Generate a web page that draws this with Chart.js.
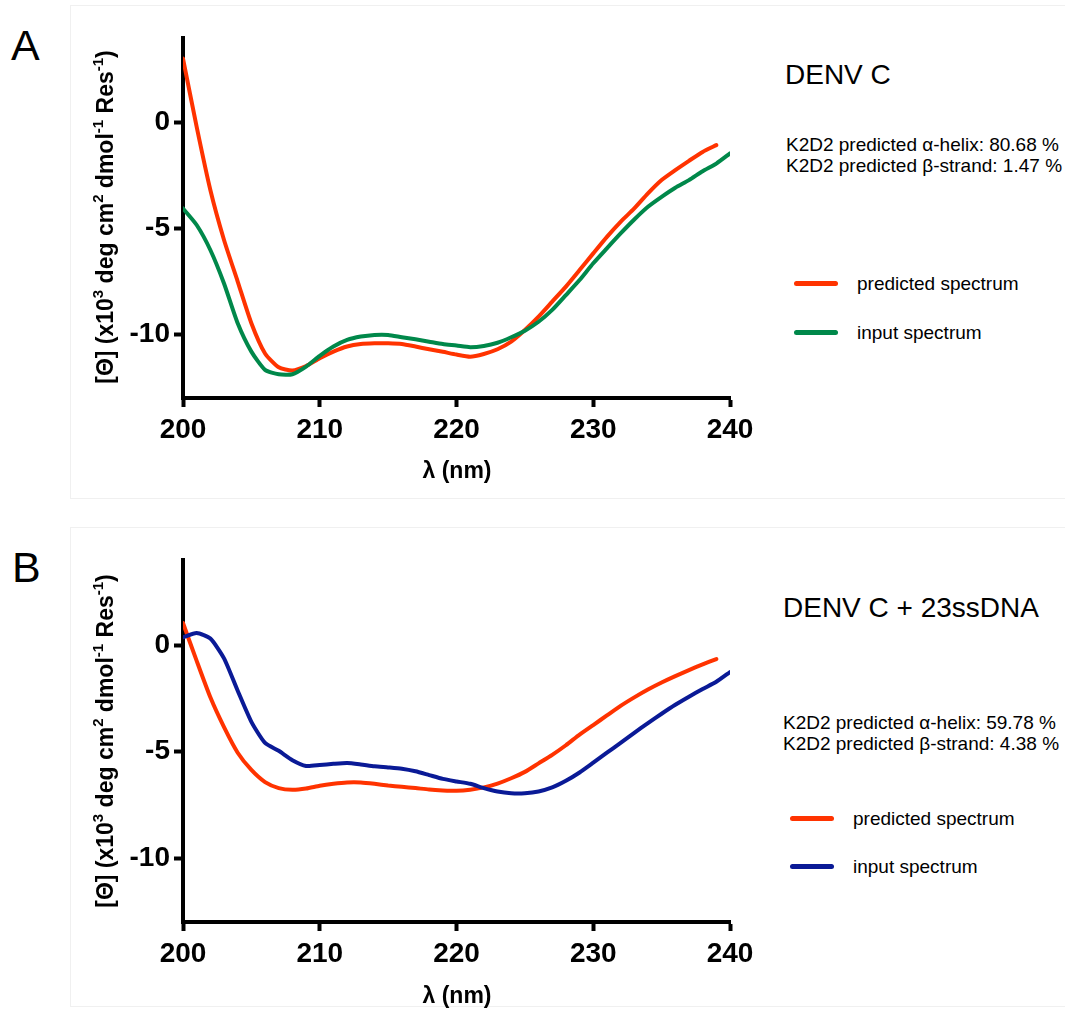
<!DOCTYPE html>
<html><head><meta charset="utf-8">
<script src="https://cdn.jsdelivr.net/npm/chart.js@4"></script>
<style>
body{margin:0;background:#fff;width:1065px;height:1010px;position:relative;overflow:hidden;font-family:"Liberation Sans",Arial,Helvetica,sans-serif;color:#000;}
.abs{position:absolute;white-space:nowrap;}
.frame{position:absolute;border:1px solid #f0f0f0;box-sizing:border-box;}
.letter{font-size:43px;line-height:43px;}
.ytitle{font-weight:bold;font-size:23px;line-height:23px;transform:translate(-50%,-50%) rotate(-90deg);}
.ytitle sup{font-size:15px;line-height:0;position:relative;top:-1px;}
.xtitle{font-weight:bold;font-size:23px;line-height:23px;transform:translate(-50%,-50%);}
.title{font-size:28px;line-height:28px;}
.info{font-size:19px;line-height:21px;}
.leg{font-size:19px;line-height:19px;}
.sw{position:absolute;height:5px;border-radius:3px;}
canvas{position:absolute;left:0;}
</style></head>
<body>
<div class="frame" style="left:70px;top:5px;width:1000px;height:494px;"></div>
<div class="frame" style="left:70px;top:527px;width:1000px;height:480px;"></div>

<div class="abs letter" style="left:11px;top:24px;">A</div>
<div class="abs letter" style="left:12px;top:546px;">B</div>

<canvas id="chartA" width="760" height="500" style="top:0;"></canvas>
<canvas id="chartB" width="760" height="510" style="top:500px;"></canvas>

<div class="abs ytitle" style="left:105px;top:217px;">[Θ] (x10<sup>3</sup> deg cm<sup>2</sup> dmol<sup>-1</sup> Res<sup>-1</sup>)</div>
<div class="abs ytitle" style="left:105px;top:741px;">[Θ] (x10<sup>3</sup> deg cm<sup>2</sup> dmol<sup>-1</sup> Res<sup>-1</sup>)</div>
<div class="abs xtitle" style="left:457px;top:470px;">λ (nm)</div>
<div class="abs xtitle" style="left:457px;top:995px;">λ (nm)</div>

<div class="abs title" style="left:785px;top:61px;">DENV C</div>
<div class="abs info" style="left:786px;top:134px;">K2D2 predicted α-helix: 80.68 %<br>K2D2 predicted β-strand: 1.47 %</div>
<div class="sw" style="left:794px;top:281px;width:44px;background:#FF3300;"></div>
<div class="abs leg" style="left:857px;top:274px;">predicted spectrum</div>
<div class="sw" style="left:794px;top:330px;width:44px;background:#00884A;"></div>
<div class="abs leg" style="left:857px;top:323px;">input spectrum</div>

<div class="abs title" style="left:783px;top:594px;">DENV C + 23ssDNA</div>
<div class="abs info" style="left:783px;top:712px;">K2D2 predicted α-helix: 59.78 %<br>K2D2 predicted β-strand: 4.38 %</div>
<div class="sw" style="left:790px;top:816px;width:44px;background:#FF3300;"></div>
<div class="abs leg" style="left:853px;top:809px;">predicted spectrum</div>
<div class="sw" style="left:790px;top:864px;width:44px;background:#0A1A96;"></div>
<div class="abs leg" style="left:853px;top:857px;">input spectrum</div>

<script>
// ---- Data ----
const xTicks = [200, 210, 220, 230, 240];
const yTicks = [0, -5, -10];

// Panel A: DENV C
const wlA_pred = [200,201,202,203,204,205,206,207,208,209,210,211,212,213,214,215,216,217,218,219,220,221,222,223,224,225,226,227,228,229,230,231,232,233,234,235,236,237,238,239];
const predA = [3.03,-0.2,-3.18,-5.54,-7.5,-9.47,-10.9,-11.55,-11.7,-11.49,-11.12,-10.81,-10.57,-10.45,-10.42,-10.42,-10.45,-10.57,-10.7,-10.82,-10.95,-11.05,-10.92,-10.7,-10.34,-9.79,-9.16,-8.45,-7.74,-6.96,-6.17,-5.39,-4.68,-4.05,-3.34,-2.71,-2.24,-1.8,-1.38,-1.06];
const wlA_in = [200,201,202,203,204,205,206,207,208,209,210,211,212,213,214,215,216,217,218,219,220,221,222,223,224,225,226,227,228,229,230,231,232,233,234,235,236,237,238,239,240];
const inA = [-4.05,-4.83,-6.01,-7.59,-9.47,-10.81,-11.67,-11.88,-11.88,-11.52,-11.01,-10.57,-10.26,-10.1,-10.02,-10.02,-10.13,-10.23,-10.34,-10.45,-10.52,-10.6,-10.54,-10.39,-10.13,-9.82,-9.4,-8.84,-8.14,-7.43,-6.64,-5.93,-5.23,-4.57,-3.97,-3.5,-3.07,-2.71,-2.29,-1.93,-1.45];

// Panel B: DENV C + 23ssDNA
const wlB_pred = [200,201,202,203,204,205,206,207,208,209,210,211,212,213,214,215,216,217,218,219,220,221,222,223,224,225,226,227,228,229,230,231,232,233,234,235,236,237,238,239];
const predB = [1.04,-0.74,-2.45,-3.85,-5.05,-5.86,-6.43,-6.71,-6.79,-6.73,-6.6,-6.51,-6.45,-6.45,-6.51,-6.59,-6.65,-6.71,-6.78,-6.82,-6.84,-6.79,-6.68,-6.5,-6.25,-5.95,-5.55,-5.15,-4.7,-4.2,-3.75,-3.3,-2.85,-2.45,-2.08,-1.75,-1.45,-1.17,-0.9,-0.65];
const wlB_in = [200,201,202,203,204,205,206,207,208,209,210,211,212,213,214,215,216,217,218,219,220,221,222,223,224,225,226,227,228,229,230,231,232,233,234,235,236,237,238,239,240];
const inB = [0.37,0.57,0.31,-0.62,-2.14,-3.6,-4.59,-4.96,-5.4,-5.67,-5.63,-5.57,-5.53,-5.6,-5.69,-5.74,-5.8,-5.92,-6.1,-6.28,-6.4,-6.51,-6.71,-6.87,-6.95,-6.95,-6.87,-6.68,-6.37,-5.98,-5.52,-5.05,-4.59,-4.12,-3.66,-3.22,-2.8,-2.42,-2.06,-1.72,-1.26];

const seriesNames = ['predicted spectrum', 'input spectrum'];
const RED = '#FF3300', GREEN = '#00884A', BLUE = '#0A1A96';

const pts = (xs, ys) => xs.map((x, i) => ({x: x, y: ys[i]}));
const tickFont = {family: '"Liberation Sans", Arial, sans-serif', size: 28, weight: 'bold'};

function makeChart(id, datasets, padTop, xHeight) {
  return new Chart(document.getElementById(id), {
    type: 'line',
    data: {datasets: datasets},
    options: {
      responsive: false,
      animation: false,
      layout: {padding: {top: padTop, right: 30, left: 0, bottom: 0}},
      plugins: {legend: {display: false}, tooltip: {enabled: false}},
      elements: {point: {radius: 0}, line: {borderWidth: 4, tension: 0.2, borderCapStyle: 'round', borderJoinStyle: 'round'}},
      scales: {
        x: {
          type: 'linear', min: 200, max: 240,
          afterFit(s) { s.height = xHeight; },
          afterBuildTicks(s) { s.ticks = xTicks.map(v => ({value: v})); },
          ticks: {color: '#000', font: tickFont, padding: 6, maxRotation: 0, autoSkip: false},
          grid: {display: true, drawOnChartArea: false, drawTicks: true, tickLength: 9, tickWidth: 4, tickColor: '#000', color: '#000'},
          border: {display: true, color: '#000', width: 4}
        },
        y: {
          type: 'linear', min: -13, max: 4,
          afterFit(s) { s.width = 183; },
          afterBuildTicks(s) { s.ticks = yTicks.map(v => ({value: v})); },
          ticks: {color: '#000', font: tickFont, padding: 4, autoSkip: false},
          grid: {display: true, drawOnChartArea: false, drawTicks: true, tickLength: 9, tickWidth: 4, tickColor: '#000', color: '#000'},
          border: {display: true, color: '#000', width: 4}
        }
      }
    }
  });
}

makeChart('chartA', [
  {label: seriesNames[1], data: pts(wlA_in, inA), borderColor: GREEN, backgroundColor: GREEN},
  {label: seriesNames[0], data: pts(wlA_pred, predA), borderColor: RED, backgroundColor: RED}
], 38, 102);

makeChart('chartB', [
  {label: seriesNames[1], data: pts(wlB_in, inB), borderColor: BLUE, backgroundColor: BLUE},
  {label: seriesNames[0], data: pts(wlB_pred, predB), borderColor: RED, backgroundColor: RED}
], 60, 88);
</script>
</body></html>
